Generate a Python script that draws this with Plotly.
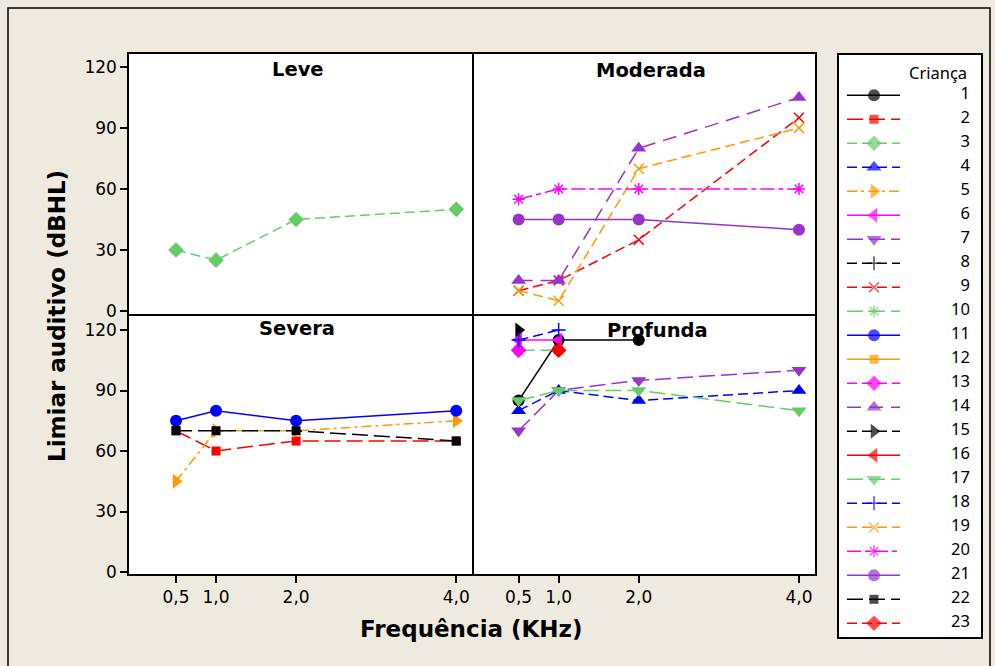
import plotly.graph_objects as go

W, H = 995, 666
H_DRAW = 658  # vertical extent the page actually gives the figure

# Frequencies (KHz) and their tick labels
freqs = [0.5, 1.0, 2.0, 4.0]
freq_labels = ["0,5", "1,0", "2,0", "4,0"]
y_ticks = [0, 30, 60, 90, 120]

# Hearing-loss groups, one panel each
panels = ["Leve", "Moderada", "Severa", "Profunda"]

# Children (legend entries)
children = [str(i) for i in range(1, 24)]

# Group each child belongs to (None: no plotted thresholds)
child_panel = [
    "Profunda", "Severa", "Leve", "Profunda", "Severa", "Profunda",
    "Profunda", None, "Moderada", "Profunda", "Severa", None,
    "Profunda", "Moderada", "Profunda", None, "Profunda", "Profunda",
    "Moderada", "Moderada", "Moderada", "Severa", "Profunda",
]

# Hearing thresholds (dBHL) at 0.5, 1, 2 and 4 KHz
thresholds = [
    [85, 115, 115, None],     # 1
    [70, 60, 65, 65],         # 2
    [30, 25, 45, 50],         # 3
    [80, 90, 85, 90],         # 4
    [45, 70, 70, 75],         # 5
    [115, 115, None, None],   # 6
    [70, 90, 95, 100],        # 7
    [None, None, None, None], # 8
    [10, 15, 35, 95],         # 9
    [110, 110, None, None],   # 10
    [75, 80, 75, 80],         # 11
    [None, None, None, None], # 12
    [110, None, None, None],  # 13
    [15, 15, 80, 105],        # 14
    [120, None, None, None],  # 15
    [None, None, None, None], # 16
    [85, 90, 90, 80],         # 17
    [115, 120, None, None],   # 18
    [10, 5, 70, 90],          # 19
    [55, 60, 60, 60],         # 20
    [45, 45, 45, 40],         # 21
    [70, 70, 70, 65],         # 22
    [None, 110, None, None],  # 23
]

BLACK, RED, GREEN, BLUE = "#000000", "#FF0000", "#66CC66", "#0000FF"
ORANGE, MAGENTA, PURPLE = "#FF9900", "#FF00FF", "#9933CC"

colors = [BLACK, RED, GREEN, BLUE, ORANGE, MAGENTA, PURPLE, BLACK, RED, GREEN,
          BLUE, ORANGE, MAGENTA, PURPLE, BLACK, RED, GREEN, BLUE, ORANGE,
          MAGENTA, PURPLE, BLACK, RED]
base_symbols = ["circle", "square", "diamond", "triangle-up", "triangle-right",
                "triangle-left", "triangle-down", "cross-thin-open",
                "x-thin-open", "asterisk-open"]
symbols = [base_symbols[i % 10] for i in range(23)]

SOLID = "solid"
DASH = "10px,5px"
LONG = "16px,6px"
LONG2 = "14px,8px"
DASHDOT = "10px,4px,3px,4px"
DASHDOT2 = "14px,4px,5px,4px"
dashes = [SOLID, LONG, DASH, DASH, DASHDOT, SOLID, LONG, DASH, DASH, LONG,
          SOLID, SOLID, DASH, LONG2, DASH, SOLID, LONG, DASH, DASH, DASHDOT2,
          SOLID, LONG, DASH]

size_by_symbol = {"circle": 12, "square": 9, "diamond": 12, "triangle-up": 13,
                  "triangle-right": 13, "triangle-left": 13, "triangle-down": 13,
                  "cross-thin-open": 10, "x-thin-open": 10, "asterisk-open": 10}

axis_ids = {"Leve": ("x", "y"), "Moderada": ("x2", "y2"),
            "Severa": ("x3", "y3"), "Profunda": ("x4", "y4")}


def px_x(v):
    return v / W


def px_y(v):
    return 1 - v / H_DRAW


fig = go.Figure()

for i, cid in enumerate(children):
    panel = child_panel[i]
    if panel is None:
        continue
    xa, ya = axis_ids[panel]
    sym = symbols[i]
    open_sym = sym.endswith("-open")
    fig.add_trace(go.Scatter(
        x=freqs, y=thresholds[i], xaxis=xa, yaxis=ya,
        mode="lines+markers", connectgaps=False, showlegend=False,
        line=dict(color=colors[i], width=1.5, dash=dashes[i]),
        marker=dict(symbol=sym, size=size_by_symbol[sym], color=colors[i],
                    line=dict(color=colors[i], width=1.5 if open_sym else 0)),
        name=cid,
    ))

# Legend drawn on its own axis
leg_rows = [40.3 + 24 * k for k in range(len(children))]
for i, cid in enumerate(children):
    sym = symbols[i]
    open_sym = sym.endswith("-open")
    fig.add_trace(go.Scatter(
        x=[8, 35, 61], y=[leg_rows[i]] * 3, xaxis="x5", yaxis="y5",
        mode="lines+markers", showlegend=False, hoverinfo="skip",
        line=dict(color=colors[i], width=1.5, dash=dashes[i]),
        marker=dict(symbol=sym, size=[0, size_by_symbol[sym], 0], color=colors[i],
                    line=dict(color=colors[i], width=1.5 if open_sym else 0)),
    ))
fig.add_trace(go.Scatter(
    x=[131] * len(children), y=leg_rows, xaxis="x5", yaxis="y5",
    mode="text", text=children, textposition="middle left", showlegend=False,
    textfont=dict(family="Noto Sans", size=16.5, color="#000000"), hoverinfo="skip",
))

# Panel extents in pixels; neighbouring frames share one line
xl = [129, 472]
xr = [473.5, 815]
yt = [54, 314]
yb = [315.5, 574]
xrange_l = [-0.087, 4.197]
xrange_r = [-0.063, 4.2]
yrange_t = [-1.475, 126.39]
yrange_b = [-0.99, 127.19]

tick_font = dict(family="DejaVu Sans", size=17, color="#000000")
frame = dict(showline=True, linewidth=1.5, linecolor="#000000", mirror=True,
             showgrid=False, zeroline=False, tickfont=tick_font)
ticked = dict(frame, ticks="outside", tickwidth=1.5, tickcolor="#000000")


def xdom(p):
    return [px_x(p[0]), px_x(p[1])]


def ydom(p):
    return [px_y(p[1]), px_y(p[0])]


fig.update_layout(
    width=W, height=H, margin=dict(l=0, r=0, t=0, b=0),
    paper_bgcolor="#EEEAE0", plot_bgcolor="#FFFFFF",
    showlegend=False,
    xaxis=dict(domain=xdom(xl), range=xrange_l, anchor="y", showticklabels=False,
               tickvals=[], **frame),
    yaxis=dict(domain=ydom(yt), range=yrange_t, anchor="x", tickvals=y_ticks,
               ticklen=7, **ticked),
    xaxis2=dict(domain=xdom(xr), range=xrange_r, anchor="y2", tickvals=[],
                showticklabels=False, **frame),
    yaxis2=dict(domain=ydom(yt), range=yrange_t, anchor="x2", tickvals=[],
                showticklabels=False, **frame),
    xaxis3=dict(domain=xdom(xl), range=xrange_l, anchor="y3", tickvals=freqs,
                ticktext=freq_labels, ticklen=7, **ticked),
    yaxis3=dict(domain=ydom(yb), range=yrange_b, anchor="x3", tickvals=y_ticks,
                ticklen=7, **ticked),
    xaxis4=dict(domain=xdom(xr), range=xrange_r, anchor="y4", tickvals=freqs,
                ticktext=freq_labels, ticklen=7, **ticked),
    yaxis4=dict(domain=ydom(yb), range=yrange_b, anchor="x4", tickvals=[],
                showticklabels=False, **frame),
    xaxis5=dict(domain=[px_x(839), px_x(981)], range=[0, 142], anchor="y5",
                showline=True, mirror=True, linewidth=1.5, linecolor="#000000",
                showgrid=False, zeroline=False, showticklabels=False, ticks=""),
    yaxis5=dict(domain=[px_y(637), px_y(55)], range=[582, 0], anchor="x5",
                showline=True, mirror=True, linewidth=1.5, linecolor="#000000",
                showgrid=False, zeroline=False, showticklabels=False, ticks=""),
)

title_font = dict(family="DejaVu Sans", size=19.5, color="#000000")
panel_title_pos = {"Leve": (298, 69), "Moderada": (651, 71),
                   "Severa": (297, 328), "Profunda": (657, 330)}
annotations = []
for name in panels:
    px, py = panel_title_pos[name]
    annotations.append(dict(text="<b>%s</b>" % name, x=px_x(px), y=px_y(py),
                            xref="paper", yref="paper", showarrow=False,
                            xanchor="center", yanchor="middle", font=title_font))

axis_font = dict(family="DejaVu Sans", size=23, color="#000000")
annotations.append(dict(text="<b>Frequência (KHz)</b>", x=px_x(471), y=px_y(629),
                        xref="paper", yref="paper", showarrow=False,
                        xanchor="center", yanchor="middle", font=axis_font))
annotations.append(dict(text="<b>Limiar auditivo (dBHL)</b>", x=px_x(57), y=px_y(316),
                        xref="paper", yref="paper", showarrow=False, textangle=-90,
                        xanchor="center", yanchor="middle", font=axis_font))
annotations.append(dict(text="Criança", x=px_x(969), y=px_y(72),
                        xref="paper", yref="paper", showarrow=False,
                        xanchor="right", yanchor="middle",
                        font=dict(family="Noto Sans", size=16.5, color="#000000")))
fig.update_layout(annotations=annotations)

# Outer frame of the graph window
fig.add_shape(type="rect", xref="paper", yref="paper",
              x0=px_x(8), y0=px_y(8), x1=px_x(990), y1=px_y(700),
              line=dict(color="#000000", width=1.5), fillcolor="rgba(0,0,0,0)",
              layer="below")

fig.write_html("out.html")
